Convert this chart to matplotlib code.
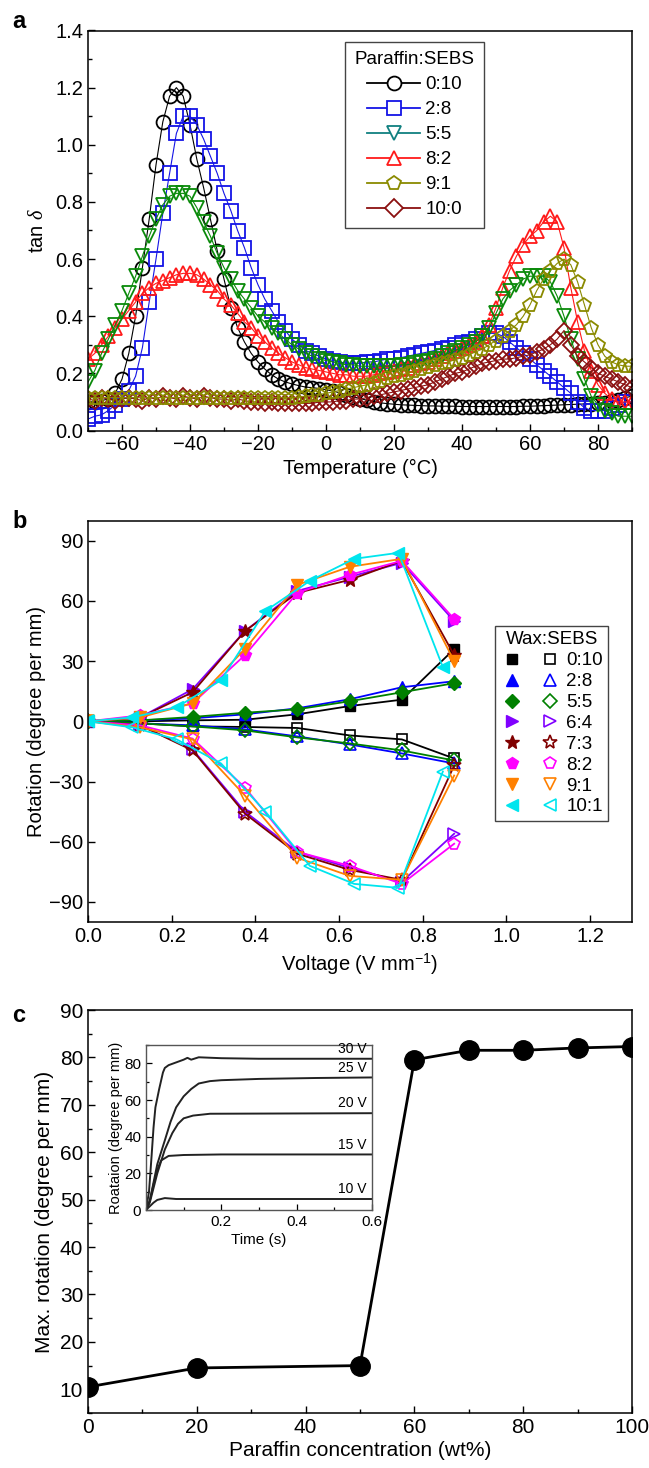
import numpy as np
import matplotlib
matplotlib.use("Agg")
import matplotlib.pyplot as plt
from matplotlib.lines import Line2D
from matplotlib.ticker import MultipleLocator

plt.rcParams['font.family'] = ['Liberation Sans', 'DejaVu Sans']
plt.rcParams['mathtext.fontset'] = 'custom'
plt.rcParams['mathtext.rm'] = 'Liberation Sans'
plt.rcParams['mathtext.it'] = 'Liberation Serif:italic'

# ---------------- panel a: tan delta vs temperature ----------------
temp = np.arange(-70, 91, 2)
tan_0_10 = [0.100, 0.100, 0.105, 0.110, 0.130, 0.180, 0.270, 0.400, 0.570, 0.740,
            0.930, 1.080, 1.170, 1.200, 1.170, 1.070, 0.950, 0.850, 0.740, 0.630,
            0.530, 0.430, 0.360, 0.310, 0.270, 0.240, 0.215, 0.195, 0.180, 0.170,
            0.163, 0.157, 0.152, 0.150, 0.147, 0.143, 0.138, 0.132, 0.125, 0.118,
            0.112, 0.106, 0.101, 0.097, 0.094, 0.092, 0.090, 0.089, 0.088, 0.087,
            0.086, 0.086, 0.085, 0.085, 0.085, 0.084, 0.084, 0.084, 0.084, 0.084,
            0.084, 0.084, 0.084, 0.084, 0.085, 0.085, 0.086, 0.087, 0.088, 0.089,
            0.090, 0.091, 0.092, 0.093, 0.094, 0.095, 0.098, 0.102, 0.108, 0.115,
            0.120]
tan_2_8 = [0.040, 0.050, 0.055, 0.070, 0.090, 0.110, 0.140, 0.190, 0.290, 0.450,
           0.600, 0.760, 0.900, 1.040, 1.100, 1.100, 1.070, 1.020, 0.960, 0.900,
           0.830, 0.770, 0.700, 0.640, 0.570, 0.510, 0.460, 0.420, 0.380, 0.350,
           0.320, 0.300, 0.280, 0.270, 0.260, 0.250, 0.245, 0.240, 0.235, 0.235,
           0.235, 0.240, 0.240, 0.245, 0.250, 0.250, 0.255, 0.260, 0.265, 0.270,
           0.275, 0.280, 0.285, 0.290, 0.300, 0.305, 0.310, 0.320, 0.330, 0.340,
           0.340, 0.330, 0.310, 0.290, 0.270, 0.250, 0.230, 0.210, 0.190, 0.170,
           0.150, 0.130, 0.100, 0.080, 0.070, 0.070, 0.070, 0.080, 0.090, 0.100,
           0.100]
tan_5_5 = [0.170, 0.210, 0.270, 0.320, 0.370, 0.420, 0.480, 0.540, 0.610, 0.680,
           0.740, 0.790, 0.820, 0.830, 0.830, 0.820, 0.780, 0.730, 0.680, 0.620,
           0.570, 0.530, 0.490, 0.460, 0.430, 0.400, 0.380, 0.360, 0.340, 0.320,
           0.300, 0.285, 0.270, 0.260, 0.250, 0.245, 0.240, 0.235, 0.230, 0.230,
           0.225, 0.225, 0.225, 0.225, 0.225, 0.225, 0.230, 0.230, 0.235, 0.240,
           0.245, 0.250, 0.260, 0.270, 0.280, 0.290, 0.300, 0.310, 0.330, 0.360,
           0.410, 0.460, 0.490, 0.510, 0.530, 0.540, 0.540, 0.540, 0.520, 0.470,
           0.400, 0.320, 0.250, 0.180, 0.120, 0.090, 0.070, 0.060, 0.050, 0.050,
           0.050]
tan_8_2 = [0.250, 0.270, 0.300, 0.330, 0.360, 0.390, 0.420, 0.450, 0.480, 0.500,
           0.515, 0.525, 0.535, 0.545, 0.550, 0.550, 0.545, 0.530, 0.510, 0.490,
           0.460, 0.440, 0.410, 0.380, 0.360, 0.330, 0.310, 0.290, 0.270, 0.255,
           0.240, 0.230, 0.220, 0.215, 0.210, 0.205, 0.200, 0.195, 0.195, 0.190,
           0.190, 0.190, 0.195, 0.200, 0.205, 0.210, 0.215, 0.220, 0.230, 0.235,
           0.240, 0.250, 0.260, 0.270, 0.280, 0.290, 0.300, 0.310, 0.330, 0.370,
           0.430, 0.500, 0.560, 0.610, 0.650, 0.680, 0.700, 0.730, 0.750, 0.730,
           0.640, 0.500, 0.380, 0.280, 0.210, 0.160, 0.130, 0.110, 0.100, 0.100,
           0.100]
tan_9_1 = [0.115, 0.115, 0.115, 0.115, 0.115, 0.115, 0.115, 0.115, 0.115, 0.115,
           0.115, 0.115, 0.115, 0.115, 0.115, 0.115, 0.115, 0.115, 0.115, 0.115,
           0.115, 0.115, 0.115, 0.115, 0.115, 0.115, 0.115, 0.115, 0.115, 0.115,
           0.115, 0.117, 0.120, 0.123, 0.126, 0.130, 0.135, 0.140, 0.145, 0.150,
           0.155, 0.160, 0.168, 0.175, 0.183, 0.190, 0.195, 0.200, 0.208, 0.215,
           0.222, 0.230, 0.235, 0.240, 0.248, 0.255, 0.265, 0.275, 0.285, 0.300,
           0.315, 0.330, 0.350, 0.370, 0.400, 0.440, 0.490, 0.530, 0.560, 0.585,
           0.600, 0.580, 0.520, 0.440, 0.360, 0.300, 0.260, 0.240, 0.230, 0.225,
           0.225]
tan_10_0 = [0.110, 0.105, 0.115, 0.110, 0.105, 0.110, 0.115, 0.110, 0.105, 0.115,
            0.110, 0.120, 0.115, 0.110, 0.120, 0.115, 0.110, 0.120, 0.115, 0.110,
            0.110, 0.105, 0.110, 0.105, 0.100, 0.100, 0.095, 0.100, 0.095, 0.095,
            0.095, 0.095, 0.095, 0.095, 0.100, 0.100, 0.100, 0.105, 0.105, 0.110,
            0.110, 0.115, 0.120, 0.125, 0.130, 0.135, 0.140, 0.145, 0.150, 0.155,
            0.160, 0.170, 0.180, 0.190, 0.200, 0.205, 0.215, 0.225, 0.235, 0.240,
            0.245, 0.250, 0.250, 0.255, 0.260, 0.265, 0.275, 0.285, 0.300, 0.320,
            0.350, 0.300, 0.260, 0.240, 0.220, 0.200, 0.190, 0.180, 0.170, 0.160,
            0.150]

labels_a = ['0:10', '2:8', '5:5', '8:2', '9:1', '10:0']

# ---------------- panel b: rotation vs voltage ----------------
volt = [0, 0.125, 0.25, 0.375, 0.5, 0.625, 0.75, 0.875]
volt_10_1 = [0, 0.106, 0.212, 0.318, 0.424, 0.53, 0.636, 0.742, 0.848]

rot_pos = {
    '0:10': [0, 0, 0.5, 0.8, 3.5, 7.6, 10.8, 36],
    '2:8': [0, 0.5, 1.5, 3.5, 6.5, 11, 17, 20],
    '5:5': [0, 0.5, 2.2, 4.3, 6, 10, 14.5, 19],
    '6:4': [0, 2, 16, 45, 65, 72, 79, 50],
    '7:3': [0, 2, 14.5, 45, 64, 70.5, 80, 33],
    '8:2': [0, 3, 9, 33, 64, 73, 80, 51],
    '9:1': [0, 2, 9, 36, 68, 77, 81, 30],
    '10:1': [0, 2, 7, 20.5, 55, 70, 81, 84, 27],
}
rot_neg = {
    '0:10': [0, -1, -2.5, -2.8, -3.3, -7, -9, -18.5],
    '2:8': [0, -1, -2, -4, -7.5, -11.5, -16, -21],
    '5:5': [0, -1, -2.5, -4.5, -8, -11, -14.5, -19.5],
    '6:4': [0, -2, -14, -45, -65, -73, -80, -56],
    '7:3': [0, -2, -14.5, -46, -66, -74, -79, -22],
    '8:2': [0, -2, -8.6, -33, -65, -72, -81, -61],
    '9:1': [0, -3, -9, -37, -68, -77, -79, -27],
    '10:1': [0, -3, -9, -21, -45, -72, -81, -83, -25],
}

# ---------------- panel c: max rotation vs paraffin content ----------------
paraffin = [0, 20, 50, 60, 70, 80, 90, 100]
max_rot = [10.5, 14.5, 15.0, 79.5, 81.5, 81.5, 82.0, 82.3]

# inset: rotation vs time for several voltages
t_10 = [0, 0.01, 0.02, 0.03, 0.05, 0.08, 0.1, 0.3, 0.6]
r_10 = [0, 2, 4, 5.5, 6.5, 6, 6, 6, 6]
t_15 = [0, 0.01, 0.02, 0.03, 0.04, 0.06, 0.1, 0.2, 0.6]
r_15 = [0, 5, 14, 22, 27, 29.5, 30, 30.3, 30.3]
t_20 = [0, 0.01, 0.03, 0.05, 0.07, 0.085, 0.1, 0.125, 0.17, 0.6]
r_20 = [0, 4, 20, 33, 42, 47, 50, 51.5, 52.5, 52.8]
t_25 = [0, 0.01, 0.03, 0.05, 0.065, 0.08, 0.1, 0.12, 0.14, 0.17, 0.2, 0.3, 0.45, 0.6]
r_25 = [0, 5, 25, 38, 48, 56, 62, 66, 69, 70.3, 70.8, 71.5, 72, 72.3]
t_30 = [0, 0.008, 0.015, 0.02, 0.025, 0.035, 0.045, 0.05, 0.06, 0.08, 0.1, 0.11,
        0.12, 0.14, 0.2, 0.3, 0.6]
r_30 = [0, 10, 30, 45, 56, 66, 75, 77.5, 79, 80.5, 82, 83, 82, 83.3, 82.8, 82.5, 82.5]

W, H = 649, 1468
fig = plt.figure(figsize=(W / 100, H / 100), dpi=100)


def style_axes(ax, fs=14.5):
    ax.tick_params(which='both', direction='in', labelsize=fs, width=1.0)
    ax.tick_params(which='major', length=5)
    ax.tick_params(which='minor', length=3)
    for s in ax.spines.values():
        s.set_linewidth(1.1)


def panel_a():
    ax = fig.add_axes([88 / W, 1 - 430.5 / H, 544 / W, 400 / H])
    series = [
        (tan_0_10, 'black', 'o'),
        (tan_2_8, '#1414e6', 's'),
        (tan_8_2, '#ff1a1a', '^'),
        (tan_5_5, '#0a8a0a', 'v'),
        (tan_10_0, '#8b1010', 'D'),
        (tan_9_1, '#8a8a00', 'p'),
    ]
    for vals, c, m in series:
        ms = 8.5 if m == 'D' else 10
        ax.plot(temp, vals, color=c, lw=0.8, marker=m, ms=ms, mfc='none',
                mec=c, mew=1.3)
    ax.set_xlim(-70, 90)
    ax.set_ylim(0, 1.4)
    ax.xaxis.set_major_locator(MultipleLocator(20))
    ax.xaxis.set_minor_locator(MultipleLocator(10))
    ax.yaxis.set_major_locator(MultipleLocator(0.2))
    ax.yaxis.set_minor_locator(MultipleLocator(0.1))
    ax.yaxis.set_major_formatter(plt.FormatStrFormatter('%.1f'))
    style_axes(ax)
    ax.set_xlabel('Temperature (°C)', fontsize=14.5, labelpad=3)
    ax.set_ylabel(r'tan $\delta$', fontsize=14.5, labelpad=6)

    leg_colors = ['black', '#1414e6', '#108080', '#ff1a1a', '#8a8a00', '#8b1010']
    leg_markers = ['o', 's', 'v', '^', 'p', 'D']
    handles = [Line2D([], [], color=c, lw=1.3, marker=m, ms=10 if m != 'D' else 9,
                      mfc='white', mec=c, mew=1.3)
               for c, m in zip(leg_colors, leg_markers)]
    leg = ax.legend(handles, labels_a, title='Paraffin:SEBS', loc='upper left',
                    bbox_to_anchor=(0.473, 0.971), borderaxespad=0,
                    fontsize=13.5, title_fontsize=13.5, handlelength=2.8,
                    handletextpad=0.3, labelspacing=0.42, fancybox=False,
                    edgecolor='#444444', framealpha=1, borderpad=0.5)
    leg.get_frame().set_linewidth(1.0)


def panel_b():
    ax = fig.add_axes([88 / W, 1 - 922 / H, 544 / W, 401.3 / H])
    keys = ['0:10', '2:8', '5:5', '6:4', '7:3', '8:2', '9:1', '10:1']
    colors = ['black', '#0000ff', '#008000', '#8000ff', '#800000', '#ff00ff',
              '#ff8000', '#00e5ee']
    markers = ['s', '^', 'D', '>', '*', 'p', 'v', '<']
    sizes = [7, 8, 7, 8, 10, 8.5, 8, 8]
    for k, c, m, s in zip(keys, colors, markers, sizes):
        x = volt_10_1 if k == '10:1' else volt
        ax.plot(x, rot_pos[k], color=c, lw=1.3, marker=m, ms=s, mfc=c, mec=c)
        ax.plot(x, rot_neg[k], color=c, lw=1.3, marker=m, ms=s, mfc='none',
                mec=c, mew=1.2)
    ax.set_xlim(0, 1.3)
    ax.set_ylim(-100, 100)
    ax.xaxis.set_major_locator(MultipleLocator(0.2))
    ax.xaxis.set_major_formatter(plt.FormatStrFormatter('%.1f'))
    ax.yaxis.set_major_locator(MultipleLocator(30))
    style_axes(ax)
    ax.set_xlabel(r'Voltage (V mm$^{-1}$)', fontsize=14.5, labelpad=4)
    ax.set_ylabel('Rotation (degree per mm)', fontsize=14.5, labelpad=2)

    filled = [Line2D([], [], ls='none', marker=m, ms=s, color=c)
              for c, m, s in zip(colors, markers, sizes)]
    hollow = [Line2D([], [], ls='none', marker=m, ms=s, color=c, mfc='none', mew=1.2)
              for c, m, s in zip(colors, markers, sizes)]
    leg = ax.legend(filled + hollow, [''] * 8 + keys, ncol=2, title='Wax:SEBS',
                    loc='upper left', bbox_to_anchor=(0.748, 0.738), borderaxespad=0,
                    fontsize=13.5, title_fontsize=13.5, handlelength=1.2,
                    handletextpad=0.25, columnspacing=0.6, labelspacing=0.2,
                    fancybox=False, edgecolor='#444444', framealpha=1, borderpad=0.3)
    leg.get_frame().set_linewidth(1.0)


def panel_c():
    narrow = ['Liberation Sans Narrow', 'Liberation Sans', 'DejaVu Sans']
    ax = fig.add_axes([88 / W, 1 - 1413 / H, 544 / W, 403 / H])
    ax.plot(paraffin, max_rot, color='black', lw=2, marker='o', ms=14)
    ax.set_xlim(0, 100)
    ax.set_ylim(5, 90)
    ax.xaxis.set_major_locator(MultipleLocator(20))
    ax.xaxis.set_minor_locator(MultipleLocator(10))
    ax.yaxis.set_major_locator(MultipleLocator(10))
    ax.yaxis.set_minor_locator(MultipleLocator(5))
    style_axes(ax, fs=15)
    for lab in ax.get_xticklabels() + ax.get_yticklabels():
        lab.set_family(narrow)
    ax.set_xlabel('Paraffin concentration (wt%)', fontsize=15, family=narrow, labelpad=3)
    ax.set_ylabel('Max. rotation (degree per mm)', fontsize=15, family=narrow, labelpad=4)

    ins = fig.add_axes([146 / W, 1 - 1210 / H, 226 / W, 165 / H])
    for t, r, lab in [(t_10, r_10, '10 V'), (t_15, r_15, '15 V'), (t_20, r_20, '20 V'),
                      (t_25, r_25, '25 V'), (t_30, r_30, '30 V')]:
        ins.plot(t, r, color='#222222', lw=1.4)
        ins.text(0.585, r[-1] + 1.5, lab, ha='right', va='bottom', fontsize=10,
                 family=narrow)
    ins.set_xlim(0, 0.6)
    ins.set_ylim(0, 90)
    ins.set_xticks([0.2, 0.4, 0.6])
    ins.xaxis.set_minor_locator(MultipleLocator(0.1))
    ins.yaxis.set_major_locator(MultipleLocator(20))
    ins.yaxis.set_minor_locator(MultipleLocator(10))
    ins.tick_params(which='both', direction='in', labelsize=11, width=0.9)
    ins.tick_params(which='major', length=4)
    ins.tick_params(which='minor', length=2)
    for lab in ins.get_xticklabels() + ins.get_yticklabels():
        lab.set_family(narrow)
    for s in ins.spines.values():
        s.set_linewidth(1.0)
        s.set_color('#555555')
    ins.set_xlabel('Time (s)', fontsize=11, family=narrow, labelpad=3)
    ins.set_ylabel('Roataion (degree per mm)', fontsize=10.5, family=narrow, labelpad=1)


panel_a()
panel_b()
panel_c()

for lab, y in [('a', 22), ('b', 521), ('c', 1015)]:
    fig.text(12 / W, 1 - y / H, lab, fontsize=17, fontweight='bold', va='center',
             ha='left')

fig.savefig('out.png', dpi=100)
